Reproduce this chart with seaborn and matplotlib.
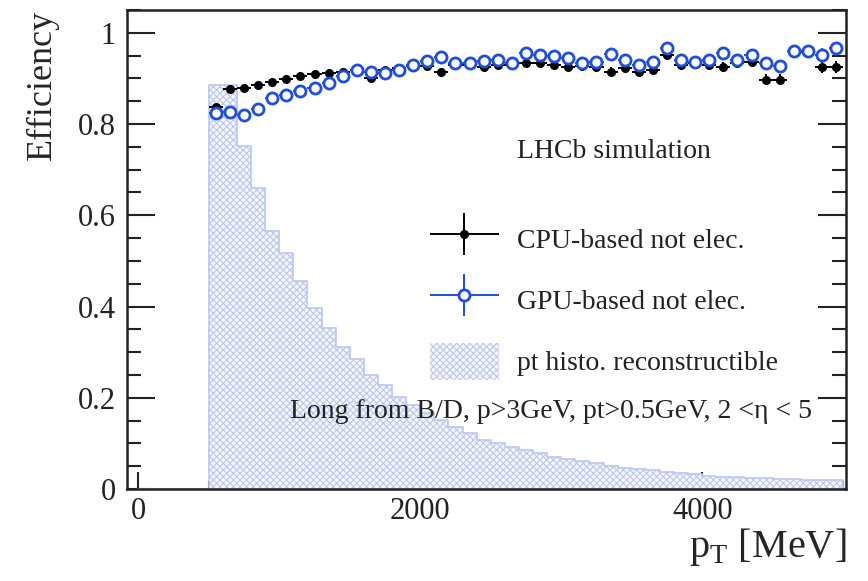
import numpy as np
import matplotlib
matplotlib.use("Agg")
import matplotlib.pyplot as plt
import matplotlib.patches as mpatches
from matplotlib.ticker import MultipleLocator
from matplotlib.legend_handler import HandlerErrorbar
import seaborn as sns

# bin centres of the efficiency points (MeV)
pt_centres = [550, 650, 750, 850, 950, 1050, 1150, 1250, 1350, 1450,
              1550, 1650, 1750, 1850, 1950, 2050, 2150, 2250, 2350, 2450,
              2550, 2650, 2750, 2850, 2950, 3050, 3150, 3250, 3350, 3450,
              3550, 3650, 3750, 3850, 3950, 4050, 4150, 4250, 4350, 4450,
              4550, 4650, 4750, 4850, 4950]

eff_cpu = [0.838, 0.877, 0.878, 0.885, 0.893, 0.898, 0.905, 0.910, 0.912, 0.914,
           0.918, 0.902, 0.918, 0.922, 0.928, 0.928, 0.915, 0.930, 0.930, 0.925,
           0.930, 0.930, 0.933, 0.933, 0.930, 0.925, 0.927, 0.925, 0.915, 0.922,
           0.915, 0.918, 0.952, 0.930, 0.933, 0.930, 0.925, 0.933, 0.937, 0.897,
           0.897, 0.960, 0.957, 0.926, 0.925]

eff_gpu = [0.824, 0.826, 0.820, 0.833, 0.857, 0.864, 0.873, 0.880, 0.890, 0.905,
           0.918, 0.913, 0.912, 0.919, 0.930, 0.939, 0.948, 0.933, 0.933, 0.939,
           0.940, 0.934, 0.955, 0.952, 0.950, 0.944, 0.933, 0.936, 0.954, 0.940,
           0.930, 0.937, 0.966, 0.941, 0.937, 0.941, 0.955, 0.941, 0.952, 0.933,
           0.928, 0.961, 0.960, 0.952, 0.966]

eff_err = [0.003, 0.003, 0.003, 0.003, 0.003, 0.004, 0.004, 0.004, 0.004, 0.004,
           0.005, 0.005, 0.005, 0.005, 0.005, 0.006, 0.006, 0.006, 0.006, 0.006,
           0.007, 0.007, 0.007, 0.007, 0.008, 0.008, 0.008, 0.008, 0.009, 0.009,
           0.009, 0.010, 0.010, 0.010, 0.010, 0.011, 0.011, 0.011, 0.012, 0.012,
           0.012, 0.013, 0.013, 0.014, 0.014]

# normalised pt histogram of reconstructible tracks, 100 MeV bins from 0 to 5000
hist_edges = list(range(0, 5001, 100))
hist_heights = [0, 0, 0, 0, 0,
                0.886, 0.886, 0.751, 0.659, 0.566, 0.517, 0.456, 0.396, 0.352, 0.312,
                0.284, 0.250, 0.228, 0.202, 0.184, 0.166, 0.151, 0.137, 0.122, 0.107,
                0.100, 0.092, 0.085, 0.078, 0.071, 0.066, 0.061, 0.056, 0.051, 0.047,
                0.044, 0.041, 0.038, 0.035, 0.032, 0.028, 0.027, 0.026, 0.025, 0.024,
                0.022, 0.021, 0.020, 0.020, 0.019]

sns.set_theme(style="ticks")
plt.rcParams['font.family'] = ['Liberation Serif', 'DejaVu Serif']
plt.rcParams['mathtext.fontset'] = 'custom'
plt.rcParams['mathtext.rm'] = 'Liberation Serif'
plt.rcParams['hatch.linewidth'] = 0.8

blue = '#1f4fd8'
hist_col = '#bcc6f2'
txt_col = '#222222'

fig = plt.figure(figsize=(8.68, 5.81), dpi=100)
ax = fig.add_axes([127/868, 1-489/581, 719/868, 479/581])

# histogram
centres = [e + 50 for e in hist_edges[:-1]]
sns.histplot(x=centres, weights=hist_heights, bins=hist_edges, element='step',
             fill=True, color=hist_col, ax=ax, linewidth=1.2, alpha=1)
for coll in ax.collections:
    coll.set_facecolor('#f7f8fe')
    coll.set_edgecolor(hist_col)
    coll.set_hatch('xxxxx')

# efficiencies
cpu = ax.errorbar(pt_centres, eff_cpu, yerr=eff_err, xerr=50, fmt='o', color='black',
                  ms=5.5, elinewidth=1.4, capsize=0, zorder=3)
gpu = ax.errorbar(pt_centres, eff_gpu, yerr=eff_err, xerr=50, fmt='o', color=blue,
                  mfc='white', mec=blue, mew=2, ms=8, elinewidth=1.4, capsize=0, zorder=4)

ax.set_xlim(-80, 5020)
ax.set_ylim(0, 1.05)

ax.xaxis.set_major_locator(MultipleLocator(2000))
ax.xaxis.set_minor_locator(MultipleLocator(500))
ax.yaxis.set_major_locator(MultipleLocator(0.2))
ax.yaxis.set_minor_locator(MultipleLocator(0.05))
ax.yaxis.set_major_formatter(matplotlib.ticker.FuncFormatter(lambda v, p: f'{v:g}'))
ax.tick_params(which='both', direction='in', right=True, top=False, width=1.5,
               labelsize=22, colors=txt_col)
ax.tick_params(axis='y', which='major', length=20, pad=8)
ax.tick_params(axis='y', which='minor', length=10)
ax.tick_params(axis='x', which='major', length=12, pad=6)
ax.tick_params(axis='x', which='minor', length=6)
for s in ax.spines.values():
    s.set_linewidth(1.8)
    s.set_color(txt_col)

ax.set_ylabel('Efficiency', fontsize=26, loc='top', labelpad=14)
ax.set_xlabel(r'p$_\mathrm{T}$ [MeV]', fontsize=29, loc='right', labelpad=0)

ax.text(0.677, 0.704, 'LHCb simulation', transform=ax.transAxes, fontsize=20,
        ha='center', va='center', color=txt_col)
ax.text(0.953, 0.161, 'Long from B/D, p>3GeV, pt>0.5GeV, 2 <η < 5', transform=ax.transAxes,
        fontsize=20, ha='right', va='center', color=txt_col)

hist_handle = mpatches.Patch(facecolor='#f7f8fe', edgecolor=hist_col, hatch='xxxxx', linewidth=0)
leg = ax.legend([cpu, gpu, hist_handle],
                ['CPU-based not elec.', 'GPU-based not elec.', 'pt histo. reconstructible'],
                loc='upper left', bbox_to_anchor=(0.421, 0.561), frameon=False, fontsize=20,
                handlelength=2.5, handleheight=1.7, handletextpad=0.65, labelspacing=0.85,
                borderaxespad=0, borderpad=0,
                handler_map={type(cpu): HandlerErrorbar(xerr_size=1.25, yerr_size=0.75)})
for t in leg.get_texts():
    t.set_color(txt_col)

fig.savefig('out.png', dpi=100)
